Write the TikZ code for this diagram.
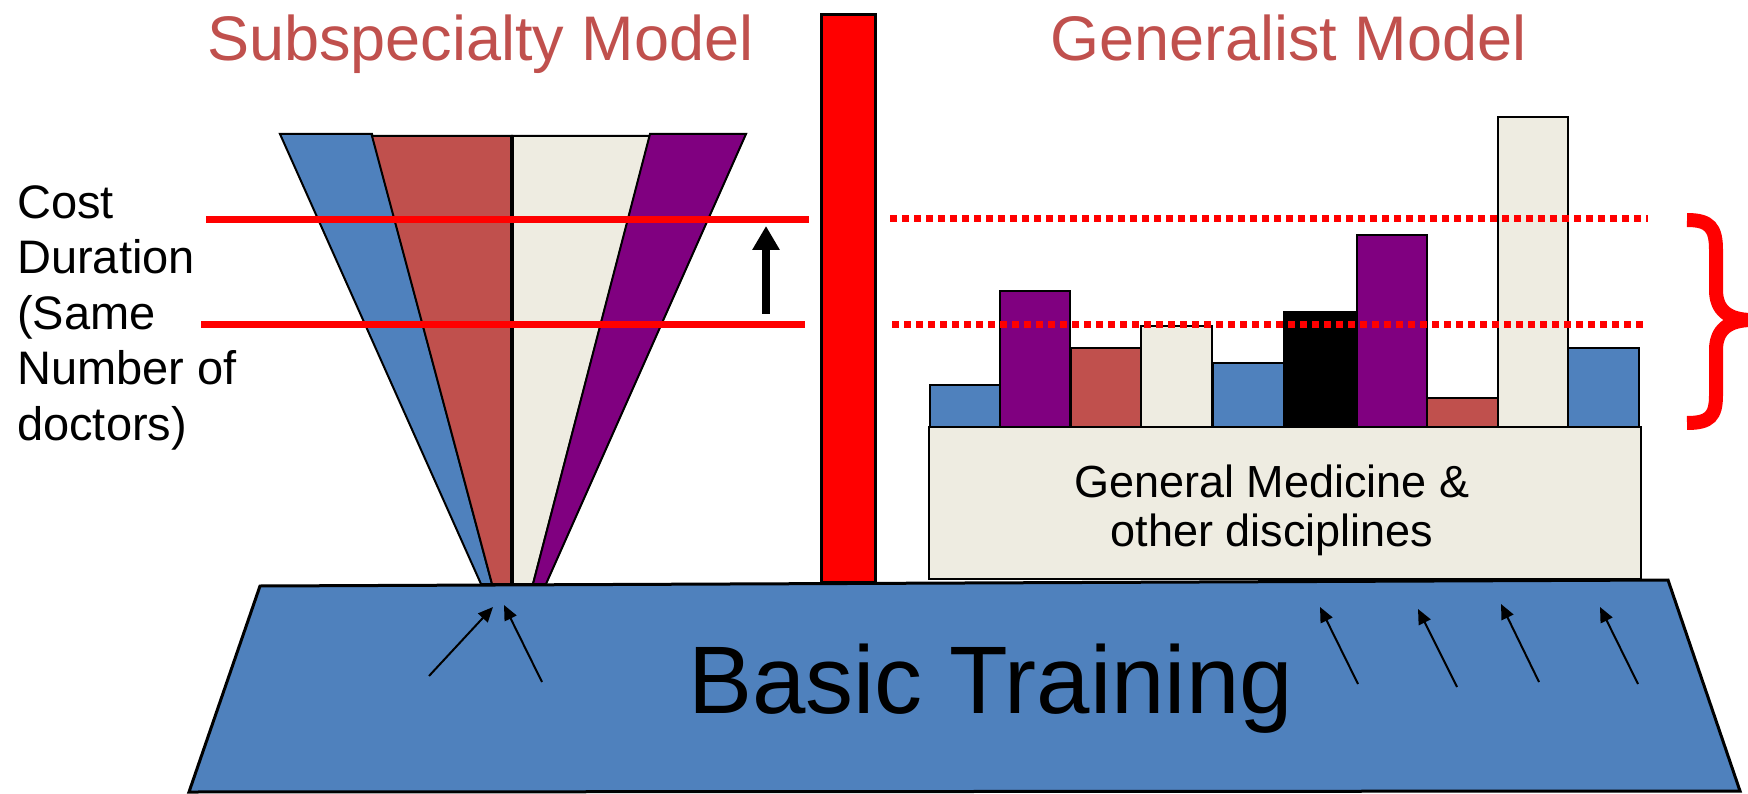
\documentclass[tikz,border=0pt]{standalone}
\usepackage{fontspec}
\setmainfont{Liberation Sans}
\usetikzlibrary{arrows.meta}
\definecolor{tblue}{HTML}{4F81BD}
\definecolor{tred}{HTML}{C0504D}
\definecolor{tcream}{HTML}{EEECE1}
\definecolor{tpurple}{HTML}{800080}
\begin{document}
\begin{tikzpicture}[x=1pt,y=-1pt,
  piece/.style={draw=black,line width=2pt,line join=miter},
  bar/.style={draw=black,line width=2.5pt},
  level/.style={draw=red,line width=7pt},
  dotlevel/.style={draw=red,line width=7pt,dash pattern=on 6.5pt off 5.5pt},
  feed/.style={draw=black,line width=2pt,-{Triangle[length=15pt,width=13pt]}},
  title/.style={text=tred,inner sep=0pt,anchor=base west,font=\fontsize{63}{70}\selectfont}]
\useasboundingbox (0,0) rectangle (1748,794);

% basic training platform
\path[piece,line width=3pt,fill=tblue] (260,586) -- (1668,580) -- (1740,791) -- (189,792) -- cycle;
\node[inner sep=0pt,anchor=base west,font=\fontsize{96}{100}\selectfont] (basic) at (688,713) {Basic Training};

% subspecialty funnel
\path[piece,fill=tblue]   (280,134) -- (372,134) -- (492,584) -- (481,584) -- cycle;
\path[piece,fill=tred]    (372,136) -- (512,136) -- (512,584) -- (492,584) -- cycle;
\path[piece,fill=tcream]  (512,136) -- (650,136) -- (533,584) -- (512,584) -- cycle;
\path[piece,fill=tpurple] (650,134) -- (746,134) -- (546,584) -- (533,584) -- cycle;
\draw[black,line width=4pt] (512,136) -- (512,584);

% divider
\draw[bar,line width=3pt,fill=red] (821,15) rectangle (875,582);

% generalist block and bars
\node[bar,fill=tcream,minimum width=712pt,minimum height=152pt,inner sep=0pt] (gen) at (1285,503) {};
\node[align=center,inner sep=0pt,anchor=base,font=\fontsize{45}{49}\selectfont] (gentext) at (1272,546) {General Medicine \&\\other disciplines};
\foreach \xa/\xb/\top/\col in {930/1000/385/tblue,1000/1070/291/tpurple,1071/1141/348/tred,
  1141/1212/326/tcream,1213/1284/363/tblue,1284/1357/312/black,1357/1427/235/tpurple,
  1427/1498/398/tred,1498/1568/117/tcream,1568/1639/348/tblue}
  \draw[bar,fill=\col] (\xa,427) rectangle (\xb,\top);

% cost levels
\draw[level] (206,220) -- (809,220);
\draw[level] (201,324) -- (805,324);
\draw[dotlevel] (890,219) -- (1648,219);
\draw[dotlevel] (892,324) -- (1644,324);

% rise arrow
\coordinate (riseA) at (766,314);
\coordinate (riseB) at (766,226);
\draw[line width=8pt,-{Triangle[length=24pt,width=26pt]}] (riseA) -- (riseB);

% brace
\draw[red,line width=14pt] (1687,220) .. controls (1710,220) and (1716,228) .. (1716,250)
  -- (1716,290) .. controls (1716,310) and (1728,320) .. (1752,320)
  .. controls (1728,320) and (1716,330) .. (1716,350)
  -- (1716,395) .. controls (1716,416) and (1710,423) .. (1687,423);

% feeding arrows
\coordinate (f1a) at (429,676); \coordinate (f1b) at (493,607);
\coordinate (f2a) at (542,682); \coordinate (f2b) at (504,605);
\coordinate (f3a) at (1358,684); \coordinate (f3b) at (1320,607);
\coordinate (f4a) at (1457,687); \coordinate (f4b) at (1418,609);
\coordinate (f5a) at (1539,682); \coordinate (f5b) at (1501,604);
\coordinate (f6a) at (1638,684); \coordinate (f6b) at (1600,607);
\foreach \i in {1,...,6} \draw[feed] (f\i a) -- (f\i b);

% titles and labels
\node[title] (subtitle) at (207,61) {Subspecialty Model};
\node[title] (gentitle) at (1050,61) {Generalist Model};
\node[align=left,inner sep=0pt,anchor=base west,font=\fontsize{47}{55.5}\selectfont] (cost) at (17,440)
  {Cost\\Duration\\(Same\\Number of\\doctors)};
\end{tikzpicture}
\end{document}
